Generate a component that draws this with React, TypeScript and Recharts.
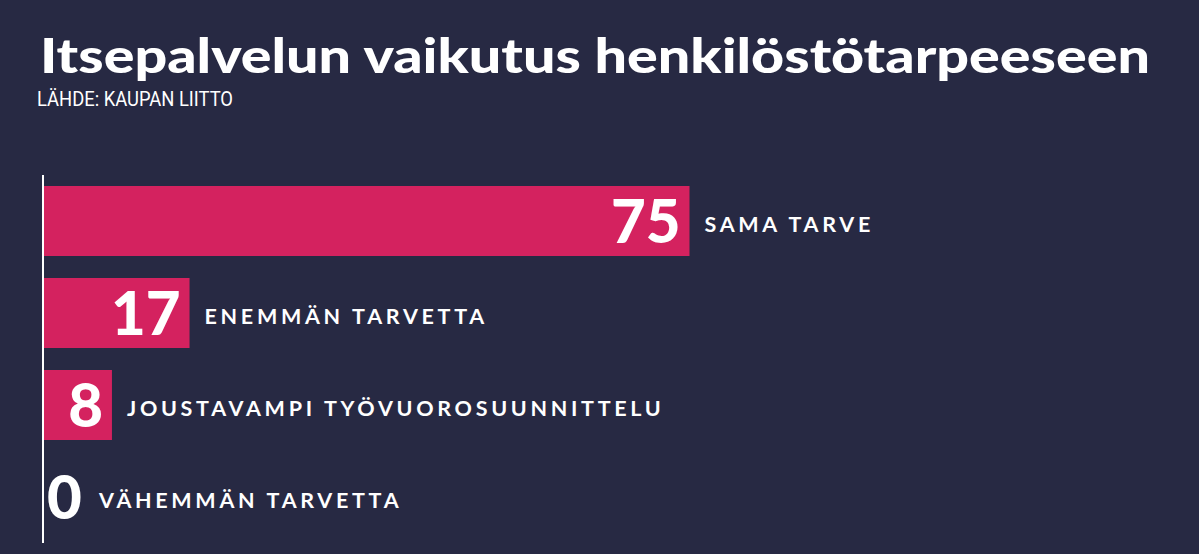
import React from "react";
import { BarChart, Bar, XAxis, YAxis, LabelList, Rectangle } from "recharts";

const TITLE = "Itsepalvelun vaikutus henkilöstötarpeeseen";
const SOURCE = "LÄHDE: KAUPAN LIITTO";
const categories = ["SAMA TARVE", "ENEMMÄN TARVETTA", "JOUSTAVAMPI TYÖVUOROSUUNNITTELU", "VÄHEMMÄN TARVETTA"];
const values = [75, 17, 8, 0];

const data = categories.map((name, i) => ({ name, value: values[i] }));

const BG = "#272943";
const BAR = "#d4225f";

const ValueLabel = (props: any) => {
  const { x, y, width, height, value } = props;
  const cy = y + height / 2;
  const inside = value > 0;
  return (
    <text
      x={inside ? x + width - 9 : x + 4}
      y={cy + 22}
      textAnchor={inside ? "end" : "start"}
      fill="#ffffff"
      fontFamily="Lato, sans-serif"
      fontWeight={900}
      fontSize={60}
    >
      {value}
    </text>
  );
};

const NameLabel = (props: any) => {
  const { x, y, width, height, index } = props;
  const cy = y + height / 2;
  const v = values[index];
  const lx = v > 0 ? x + width + 15 : x + 56;
  return (
    <text
      x={lx}
      y={cy + 11}
      textAnchor="start"
      fill="#ffffff"
      fontFamily="Lato, sans-serif"
      fontWeight={700}
      fontSize={21.5}
      letterSpacing={3.7}
    >
      {categories[index]}
    </text>
  );
};

const BarShape = (props: any) => {
  if (!props.value) return <g />;
  return <Rectangle {...props} />;
};

export default function App() {
  return (
    <div style={{ position: "fixed", left: 0, top: 0, width: 1199, height: 554, background: BG, overflow: "hidden" }}>
      <svg width={1199} height={120} style={{ position: "absolute", left: 0, top: 0 }}>
        <text
          x={40}
          y={73}
          fill="#ffffff"
          fontFamily="Lato, sans-serif"
          fontWeight={900}
          fontSize={47}
          textLength={1110}
          lengthAdjust="spacingAndGlyphs"
        >
          {TITLE}
        </text>
        <text
          x={37}
          y={106}
          fill="#ffffff"
          fontFamily="Roboto, sans-serif"
          fontWeight={400}
          fontSize={20}
          textLength={196}
          lengthAdjust="spacingAndGlyphs"
        >
          {SOURCE}
        </text>
      </svg>
      <div style={{ position: "absolute", left: 0, top: 0 }}>
        <BarChart
          width={1199}
          height={554}
          data={data}
          layout="vertical"
          margin={{ top: 175, bottom: 11, left: 42, right: 294 }}
        >
          <XAxis type="number" domain={[0, 100]} hide />
          <YAxis
            type="category"
            dataKey="name"
            width={1}
            tick={false}
            tickLine={false}
            axisLine={{ stroke: "#ffffff", strokeWidth: 2 }}
          />
          <Bar
            dataKey="value"
            fill={BAR}
            barSize={70}
            minPointSize={1}
            shape={BarShape}
            isAnimationActive={false}
          >
            <LabelList dataKey="value" content={ValueLabel} />
            <LabelList dataKey="name" content={NameLabel} />
          </Bar>
        </BarChart>
      </div>
    </div>
  );
}
